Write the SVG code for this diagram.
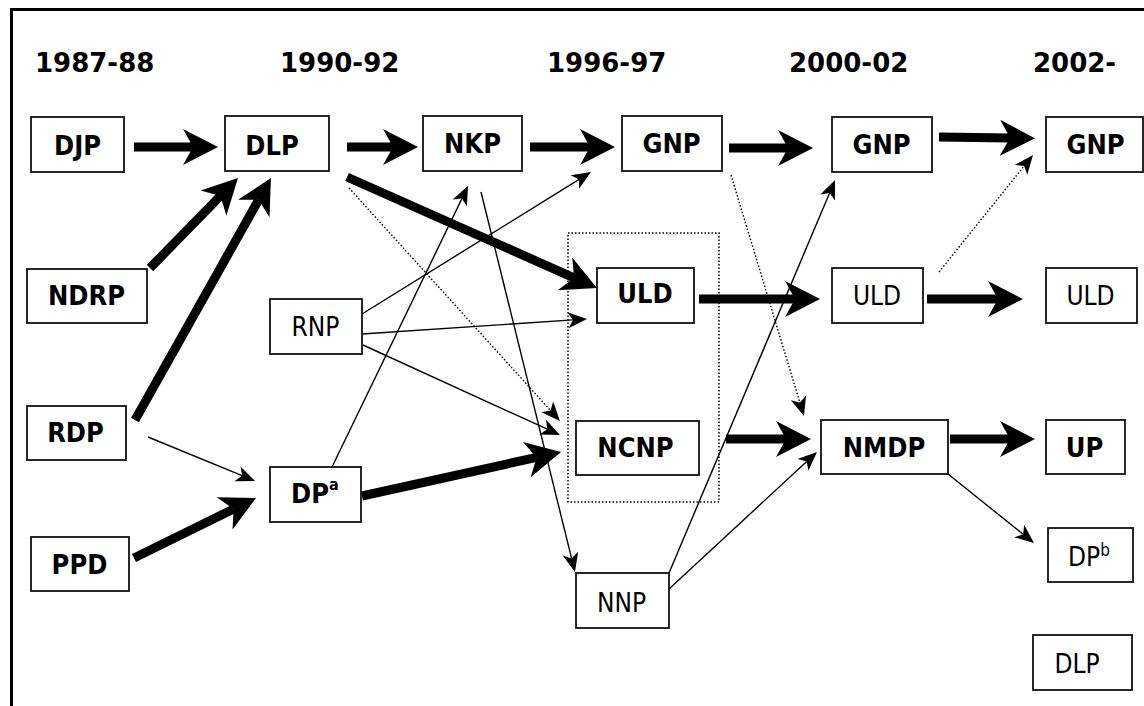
<svg xmlns="http://www.w3.org/2000/svg" width="1144" height="706" viewBox="0 0 1144 706">
<style>
.box{fill:#fff;stroke:#111;stroke-width:1.8}
.hdr{font-family:"DejaVu Sans",Verdana,sans-serif;font-weight:bold;font-size:26px;fill:#000}
.b{font-family:"DejaVu Sans Condensed","DejaVu Sans",sans-serif;font-weight:bold;font-size:27px;fill:#000;text-anchor:middle}
.r{font-family:"DejaVu Sans Condensed","DejaVu Sans",sans-serif;font-size:26px;fill:#000;text-anchor:middle}
.thick{stroke:#000;stroke-width:9;fill:none;marker-end:url(#hb)}
.thin{stroke:#000;stroke-width:1.4;fill:none;marker-end:url(#ht)}
.dot{stroke:#000;stroke-width:1.4;fill:none;stroke-dasharray:1.5 2;marker-end:url(#ht)}
</style>
<defs>
<marker id="hb" markerUnits="userSpaceOnUse" markerWidth="40" markerHeight="40" viewBox="0 -20 40 40" refX="10" refY="0" orient="auto" overflow="visible"><path d="M0,-18 L35,0 L0,18 L10,0 Z" fill="#000"/></marker>
<marker id="ht" markerUnits="userSpaceOnUse" markerWidth="20" markerHeight="20" viewBox="0 -10 20 20" refX="5" refY="0" orient="auto" overflow="visible"><path d="M0,-8 L19,0 L0,8 L5,0 Z" fill="#000"/></marker>
</defs>
<rect width="1144" height="706" fill="#fff"/>
<path d="M11.5,706 V9.5 H1144" fill="none" stroke="#000" stroke-width="3"/>
<g id="headers">
<text class="hdr" x="35" y="72">1987-88</text>
<text class="hdr" x="280" y="72">1990-92</text>
<text class="hdr" x="547" y="72">1996-97</text>
<text class="hdr" x="789" y="72">2000-02</text>
<text class="hdr" x="1033" y="72">2002-</text>
</g>
<rect x="568" y="233" width="151" height="269" fill="none" stroke="#000" stroke-width="1.5" stroke-dasharray="1.5 2"/>
<g id="connectors">
<line class="thick" x1="134" y1="147" x2="193" y2="147"/>
<line class="thick" x1="347" y1="147" x2="393" y2="147"/>
<line class="thick" x1="530" y1="147" x2="590" y2="147"/>
<line class="thick" x1="729" y1="148" x2="788" y2="148"/>
<line class="thick" x1="939" y1="137" x2="1010" y2="138"/>
<line class="thick" x1="150" y1="268" x2="220.5" y2="195.9"/>
<line class="thick" x1="135" y1="420" x2="258.7" y2="199.8"/>
<line class="thick" x1="134" y1="558" x2="233.6" y2="509"/>
<line class="thick" x1="347" y1="177" x2="574.1" y2="277.9"/>
<line class="thick" x1="362" y1="496" x2="536.6" y2="457.4"/>
<line class="thick" x1="699" y1="299" x2="795" y2="299"/>
<line class="thick" x1="927" y1="299" x2="998" y2="299"/>
<line class="thick" x1="726" y1="439" x2="786" y2="439"/>
<line class="thick" x1="950" y1="439" x2="1010" y2="439"/>
<line class="thin" x1="148" y1="437" x2="242.1" y2="475.7"/>
<line class="thin" x1="332" y1="467" x2="461.9" y2="198.6"/>
<line class="thin" x1="362" y1="314" x2="579.1" y2="179.4"/>
<line class="thin" x1="362" y1="334" x2="573" y2="319.9"/>
<line class="thin" x1="363" y1="345" x2="547.3" y2="429.2"/>
<line class="thin" x1="481" y1="192" x2="571.6" y2="558.4"/>
<line class="thin" x1="669" y1="573" x2="829.6" y2="192.9"/>
<line class="thin" x1="669" y1="589" x2="806.7" y2="461.5"/>
<line class="thin" x1="948" y1="474" x2="1023.1" y2="534.2"/>
<line class="dot" x1="349" y1="188" x2="550.6" y2="410.6"/>
<line class="dot" x1="731" y1="175" x2="799.9" y2="402.6"/>
<line class="dot" x1="939" y1="272" x2="1024.2" y2="165.9"/>
</g>
<g id="DJP"><rect class="box" x="31" y="117" width="93" height="55"/><text class="b" x="77.5" y="155">DJP</text></g>
<g id="DLP1"><rect class="box" x="225" y="116" width="104" height="55"/><text class="b" x="272" y="155">DLP</text></g>
<g id="NKP"><rect class="box" x="423" y="116" width="99" height="55"/><text class="b" x="472.5" y="153">NKP</text></g>
<g id="GNP1"><rect class="box" x="622" y="116" width="100" height="55"/><text class="b" x="671.5" y="153">GNP</text></g>
<g id="GNP2"><rect class="box" x="832" y="117" width="100" height="55"/><text class="b" x="881.5" y="154">GNP</text></g>
<g id="GNP3"><rect class="box" x="1046" y="117" width="97" height="55"/><text class="b" x="1095.5" y="154">GNP</text></g>
<g id="NDRP"><rect class="box" x="27" y="269" width="120" height="54"/><text class="b" x="86.5" y="305">NDRP</text></g>
<g id="RNP"><rect class="box" x="270" y="299" width="92" height="55"/><text class="r" x="315.5" y="336">RNP</text></g>
<g id="RDP"><rect class="box" x="27" y="406" width="99" height="54"/><text class="b" x="75.5" y="442">RDP</text></g>
<g id="DPa"><rect class="box" x="270" y="467" width="91" height="55"/><text class="b" x="291" y="503" style="text-anchor:start">DP<tspan dy="-13" font-size="16">a</tspan></text></g>
<g id="PPD"><rect class="box" x="31" y="537" width="98" height="54"/><text class="b" x="79.5" y="574">PPD</text></g>
<g id="ULD1"><rect class="box" x="597" y="268" width="97" height="55"/><text class="b" x="645" y="303">ULD</text></g>
<g id="NCNP"><rect class="box" x="576" y="421" width="123" height="54"/><text class="b" x="635.5" y="457">NCNP</text></g>
<g id="NNP"><rect class="box" x="576" y="573" width="93" height="55"/><text class="r" x="621.5" y="612">NNP</text></g>
<g id="ULD2"><rect class="box" x="832" y="268" width="91" height="55"/><text class="r" x="877" y="305">ULD</text></g>
<g id="NMDP"><rect class="box" x="821" y="420" width="127" height="54"/><text class="b" x="884" y="457">NMDP</text></g>
<g id="ULD3"><rect class="box" x="1046" y="268" width="91" height="55"/><text class="r" x="1090.5" y="305">ULD</text></g>
<g id="UP"><rect class="box" x="1046" y="420" width="79" height="54"/><text class="b" x="1084.5" y="457">UP</text></g>
<g id="DPb"><rect class="box" x="1048" y="528" width="85" height="54"/><text class="r" x="1068" y="566" style="text-anchor:start">DP<tspan dy="-10" font-size="17">b</tspan></text></g>
<g id="DLP2"><rect class="box" x="1033" y="635" width="99" height="55"/><text class="r" x="1077" y="673">DLP</text></g>
</svg>
